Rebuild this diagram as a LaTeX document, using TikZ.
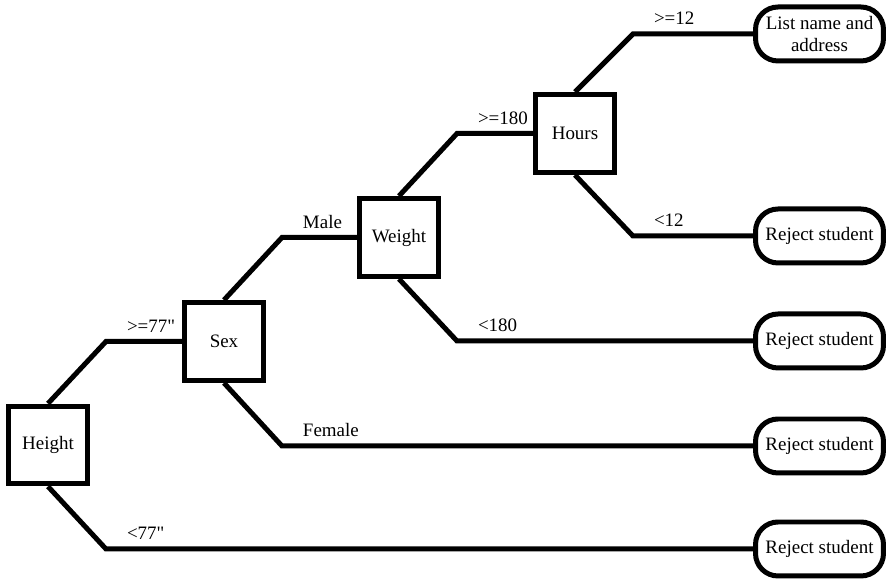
\documentclass[tikz,border=0pt]{standalone}
\usepackage{fontspec}
\newfontfamily\treefont{Liberation Serif}
\usetikzlibrary{calc}
\tikzset{
  test/.style={draw, line width=0.1cm, minimum width=1.58cm, minimum height=1.56cm,
    inner sep=0pt, font=\treefont\fontsize{10.8}{13}\selectfont},
  outcome/.style={draw, line width=0.1cm, rounded corners=0.45cm, minimum width=2.56cm,
    minimum height=1.08cm, inner sep=0pt, align=center, font=\treefont\fontsize{10.8}{13}\selectfont},
  branch/.style={line width=0.1cm, to path={let \p1=(\tikztostart), \p2=(\tikztotarget) in
    -- (\x1+1.16cm,\y2) -- (\tikztotarget) \tikztonodes}},
  cond/.style={pos=0, anchor=south west, xshift=0.3cm, yshift=0.06cm, inner sep=2pt,
    font=\treefont\fontsize{10.8}{13}\selectfont}
}

\begin{document}
\begin{tikzpicture}[x=0.02cm, y=-0.02cm]
  \useasboundingbox (0,0) rectangle (894,580);

  % tests
  \node[test] (height) at (48,445)   {Height};
  \node[test] (sex)    at (224,341.5) {Sex};
  \node[test] (weight) at (399,237.5) {Weight};
  \node[test] (hours)  at (575,133.5) {Hours};

  % outcomes
  \node[outcome] (list)    at (819.5,34)  {List name and\\address};
  \node[outcome] (rejecta) at (819.5,236) {Reject student};
  \node[outcome] (rejectb) at (819.5,341) {Reject student};
  \node[outcome] (rejectc) at (819.5,446) {Reject student};
  \node[outcome] (rejectd) at (819.5,549) {Reject student};

  % branches
  \draw[branch] (height.north) to node[cond] {>=77"} (sex.west);
  \draw[branch] (height.south) to node[cond] {<77"} (rejectd.west);
  \draw[branch] (sex.north) to node[cond] {Male} (weight.west);
  \draw[branch] (sex.south) to node[cond] {Female} (rejectc.west);
  \draw[branch] (weight.north) to node[cond] {>=180} (hours.west);
  \draw[branch] (weight.south) to node[cond] {<180} (rejectb.west);
  \draw[branch] (hours.north) to node[cond] {>=12} (list.west);
  \draw[branch] (hours.south) to node[cond] {<12} (rejecta.west);
\end{tikzpicture}
\end{document}
